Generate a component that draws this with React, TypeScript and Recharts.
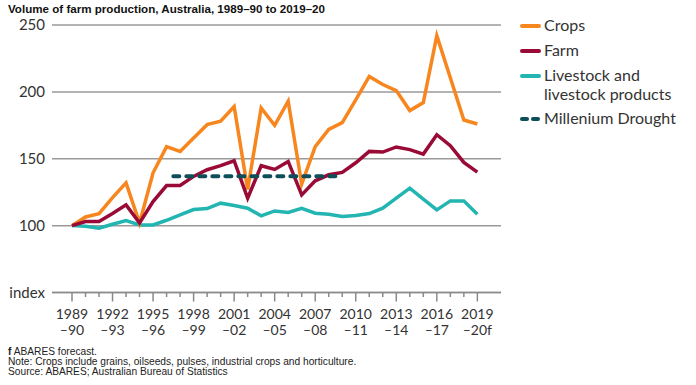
import { LineChart, Line, XAxis, YAxis, CartesianGrid } from "recharts";

// index, 1989–90 = 100
const crops = [
  100, 106.5, 109, 121, 132, 102, 139.5, 159, 155.5, 165.5, 175.5, 178, 189, 127, 188, 175,
  193, 131, 159, 172, 177, 194, 211.5, 205.5, 201, 186, 192, 242, 210.5, 179, 176,
];
const farm = [
  100, 103, 103, 109, 115.5, 102, 118, 130, 130, 136.8, 141.8, 144.8, 148.5, 120.5, 144.8, 142,
  148, 123, 133.5, 138, 139.8, 147, 155.5, 155, 158.8, 156.8, 153.5, 168, 159.8, 147.3, 140,
];
const livestock = [
  100, 99.5, 98, 101, 103.8, 100.5, 100.5, 104, 108, 112, 112.8, 116.8, 115, 113, 107.3, 111,
  109.8, 113, 109.3, 108.5, 106.8, 107.5, 109, 113, 120.5, 128, 119.8, 111.8, 118.5, 118.5, 108.5,
];
// Millenium Drought span (year index) and level
const droughtSpan = [7.5, 20];
const droughtLevel = 137;

const tickYears = ["1989", "1992", "1995", "1998", "2001", "2004", "2007", "2010", "2013", "2016", "2019"];
const tickYearsEnd = ["–90", "–93", "–96", "–99", "–02", "–05", "–08", "–11", "–14", "–17", "–20f"];
const yTicks = [50, 100, 150, 200, 250];

const data = crops.map((c, i) => ({ x: i, crops: c, farm: farm[i], livestock: livestock[i] }));
const droughtData = droughtSpan.map((x) => ({ x, drought: droughtLevel }));
const xTicks = crops.map((_, i) => i);

const ORANGE = "#F7861F";
const CRIMSON = "#990B36";
const TEAL = "#22B5B1";
const DARK = "#0E4D5A";
const FONT = "Lato, 'Open Sans', sans-serif";

const XTick = ({ x, y, payload }: any) => {
  const i = payload.value as number;
  const major = i % 3 === 0;
  return (
    <g>
      <line x1={x} x2={x} y1={y} y2={y + (major ? 9 : 4.5)} stroke="#8a8a8a" strokeWidth={1.5} />
      {major && (
        <text x={x} y={y} textAnchor="middle" fontFamily={FONT} fontSize={14} fill="#333">
          <tspan x={x} dy={26}>{tickYears[i / 3]}</tspan>
          <tspan x={x} dy={16}>{tickYearsEnd[i / 3]}</tspan>
        </text>
      )}
    </g>
  );
};

const YTick = ({ x, y, payload }: any) => (
  <text x={x} y={y} dy={5} textAnchor="end" fontFamily={FONT} fontSize={15} fill="#333">
    {payload.value === 50 ? "index" : payload.value}
  </text>
);

const legendItems = [
  { label: ["Crops"], color: ORANGE, dashed: false },
  { label: ["Farm"], color: CRIMSON, dashed: false },
  { label: ["Livestock and", "livestock products"], color: TEAL, dashed: false },
  { label: ["Millenium Drought"], color: DARK, dashed: true },
];

export default function App() {
  return (
    <div style={{ position: "absolute", left: 0, top: 0, width: 696, height: 385, background: "#fff" }}>
      <div
        style={{
          position: "absolute", left: 8, top: 2, fontFamily: "'Liberation Sans', Arial, sans-serif",
          fontWeight: "bold", fontSize: 11.6, lineHeight: "13px", color: "#111", whiteSpace: "nowrap",
        }}
      >
        Volume of farm production, Australia, 1989–90 to 2019–20
      </div>

      <LineChart width={696} height={385} data={data} margin={{ top: 25, right: 195, bottom: 47.5, left: 7 }}>
        <CartesianGrid vertical={false} stroke="#9a9a9a" strokeWidth={1.5} />
        <XAxis
          dataKey="x"
          type="number"
          domain={[-1.48, 31.75]}
          ticks={xTicks}
          interval={0}
          allowDataOverflow
          height={45}
          tickLine={false}
          tickSize={0}
          tickMargin={0}
          axisLine={{ stroke: "#8a8a8a", strokeWidth: 1.5 }}
          tick={<XTick />}
        />
        <YAxis
          type="number"
          domain={[50, 250]}
          ticks={yTicks}
          width={45}
          axisLine={false}
          tickLine={false}
          tickSize={0}
          tickMargin={7}
          tick={<YTick />}
        />
        <Line dataKey="livestock" stroke={TEAL} strokeWidth={3.5} dot={false} isAnimationActive={false} />
        <Line dataKey="crops" stroke={ORANGE} strokeWidth={3.5} dot={false} isAnimationActive={false} />
        <Line dataKey="farm" stroke={CRIMSON} strokeWidth={3.5} dot={false} isAnimationActive={false} />
        <Line
          data={droughtData}
          dataKey="drought"
          stroke={DARK}
          strokeWidth={4}
          strokeDasharray="6 7"
          strokeLinecap="round"
          dot={false}
          isAnimationActive={false}
        />
      </LineChart>

      <div style={{ position: "absolute", left: 520, top: 15, fontFamily: FONT, fontSize: 16, color: "#333" }}>
        {legendItems.map((it) => (
          <div key={it.label[0]} style={{ display: "flex", alignItems: "flex-start", marginBottom: 5 }}>
            <svg width={24} height={20} style={{ flexShrink: 0 }}>
              {it.dashed ? (
                <g stroke={it.color} strokeWidth={4} strokeLinecap="round">
                  <line x1={2} x2={7} y1={11} y2={11} />
                  <line x1={13} x2={18} y1={11} y2={11} />
                </g>
              ) : (
                <line x1={2} x2={19} y1={11} y2={11} stroke={it.color} strokeWidth={4} strokeLinecap="round" />
              )}
            </svg>
            <div style={{ lineHeight: "19px" }}>
              {it.label.map((l) => (
                <div key={l}>{l}</div>
              ))}
            </div>
          </div>
        ))}
      </div>

      <div
        style={{
          position: "absolute", left: 8, top: 347, fontFamily: "'Liberation Sans', Arial, sans-serif",
          fontSize: 10.2, lineHeight: "9.8px", color: "#222", whiteSpace: "nowrap",
        }}
      >
        <div><b>f</b> ABARES forecast.</div>
        <div>Note: Crops include grains, oilseeds, pulses, industrial crops and horticulture.</div>
        <div>Source: ABARES; Australian Bureau of Statistics</div>
      </div>
    </div>
  );
}
